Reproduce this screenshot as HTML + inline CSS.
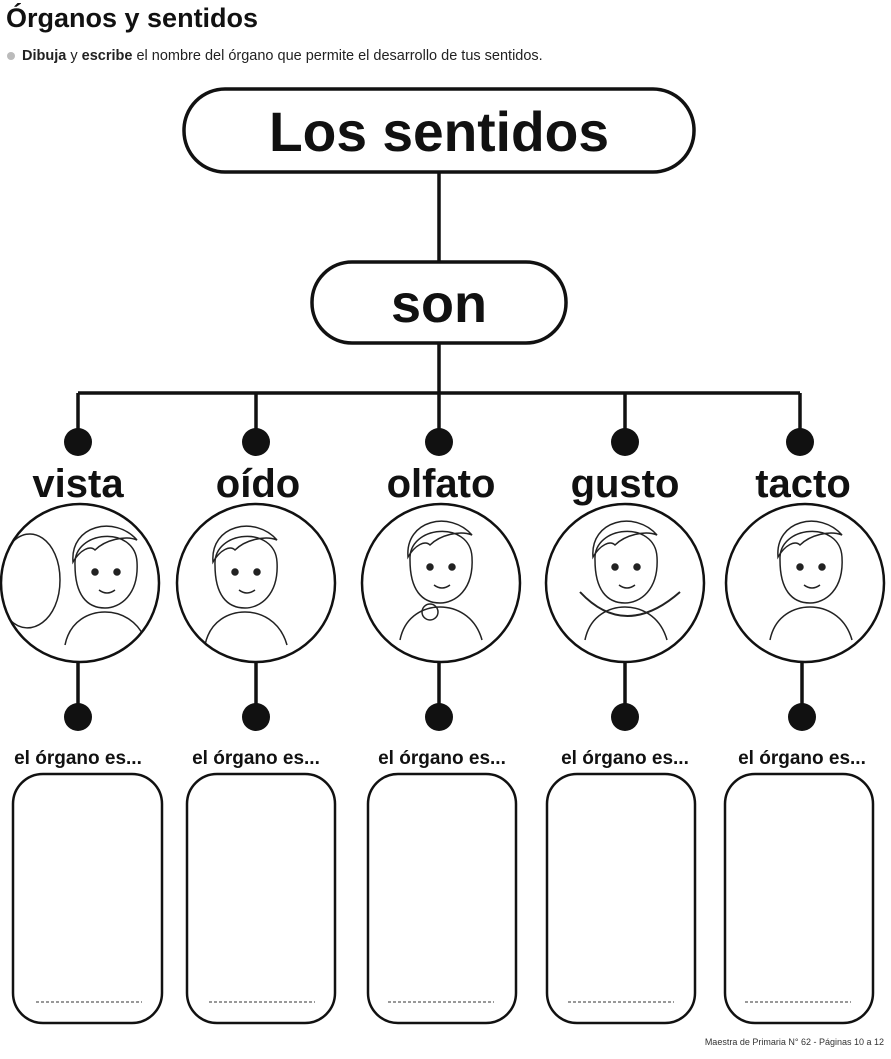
<!DOCTYPE html>
<html><head><meta charset="utf-8"><style>
body{margin:0;background:#fff;width:891px;height:1054px;overflow:hidden;font-family:"Liberation Sans",sans-serif}
</style></head><body>
<svg width="891" height="1054" viewBox="0 0 891 1054" xmlns="http://www.w3.org/2000/svg" font-family="Liberation Sans, sans-serif">
<defs>
<g id="kid" fill="none" stroke="#222" stroke-width="1.5">
<path d="M-30,-5 C-32,-40 30,-45 32,-8 C34,25 15,38 0,38 C-18,38 -30,25 -30,-5 Z"/>
<path d="M-32,-8 C-35,-45 10,-55 32,-30 C20,-35 0,-30 -10,-20 C-15,-25 -25,-20 -32,-8 Z"/>
<circle cx="-10" cy="2" r="3" fill="#222"/><circle cx="12" cy="2" r="3" fill="#222"/>
<path d="M-6,20 Q2,26 10,20"/>
<path d="M-40,75 C-35,50 -15,42 0,42 C15,42 35,50 42,75"/>
</g>
</defs>
<text x="6" y="27" font-size="27" font-weight="bold" fill="#111">Órganos y sentidos</text>
<circle cx="11" cy="56" r="4" fill="#bbb"/>
<text x="22" y="60" font-size="14.5" fill="#222"><tspan font-weight="bold">Dibuja</tspan> y <tspan font-weight="bold">escribe</tspan> el nombre del órgano que permite el desarrollo de tus sentidos.</text>
<g stroke="#111" stroke-width="3.5" fill="none">
<rect x="184" y="89" width="510" height="83" rx="41"/>
<rect x="312" y="262" width="254" height="81" rx="40"/>
<line x1="439" y1="172" x2="439" y2="262"/>
<line x1="439" y1="343" x2="439" y2="393"/>
<line x1="78" y1="393" x2="800" y2="393"/>
<line x1="78" y1="393" x2="78" y2="440"/>
<line x1="256" y1="393" x2="256" y2="440"/>
<line x1="439" y1="393" x2="439" y2="440"/>
<line x1="625" y1="393" x2="625" y2="440"/>
<line x1="800" y1="393" x2="800" y2="440"/>
<line x1="78" y1="662" x2="78" y2="715"/>
<line x1="256" y1="662" x2="256" y2="715"/>
<line x1="439" y1="662" x2="439" y2="715"/>
<line x1="625" y1="662" x2="625" y2="715"/>
<line x1="802" y1="662" x2="802" y2="715"/>
<rect x="13" y="774" width="149" height="249" rx="30" stroke-width="2.5"/>
<rect x="187" y="774" width="148" height="249" rx="30" stroke-width="2.5"/>
<rect x="368" y="774" width="148" height="249" rx="30" stroke-width="2.5"/>
<rect x="547" y="774" width="148" height="249" rx="30" stroke-width="2.5"/>
<rect x="725" y="774" width="148" height="249" rx="30" stroke-width="2.5"/>
</g>
<clipPath id="c1"><circle cx="80" cy="583" r="78"/></clipPath>
<clipPath id="c2"><circle cx="256" cy="583" r="78"/></clipPath>
<clipPath id="c3"><circle cx="441" cy="583" r="78"/></clipPath>
<clipPath id="c4"><circle cx="625" cy="583" r="78"/></clipPath>
<clipPath id="c5"><circle cx="805" cy="583" r="78"/></clipPath>
<g clip-path="url(#c1)"><use href="#kid" x="105" y="570"/><path d="M10,545 C30,520 60,540 60,580 C60,620 30,640 10,620" fill="none" stroke="#222" stroke-width="1.5"/></g>
<g clip-path="url(#c2)"><use href="#kid" x="245" y="570"/></g>
<g clip-path="url(#c3)"><use href="#kid" x="440" y="565"/><circle cx="430" cy="612" r="8" fill="none" stroke="#222" stroke-width="1.5"/></g>
<g clip-path="url(#c4)"><use href="#kid" x="625" y="565"/><path d="M580,592 Q625,640 680,592" fill="none" stroke="#222" stroke-width="2"/></g>
<g clip-path="url(#c5)"><use href="#kid" x="810" y="565"/></g>
<g stroke="#111" stroke-width="2.5" fill="none">
<circle cx="80" cy="583" r="79"/><circle cx="256" cy="583" r="79"/><circle cx="441" cy="583" r="79"/><circle cx="625" cy="583" r="79"/><circle cx="805" cy="583" r="79"/>
</g>
<g fill="#111">
<circle cx="78" cy="442" r="14"/><circle cx="256" cy="442" r="14"/><circle cx="439" cy="442" r="14"/><circle cx="625" cy="442" r="14"/><circle cx="800" cy="442" r="14"/>
<circle cx="78" cy="717" r="14"/><circle cx="256" cy="717" r="14"/><circle cx="439" cy="717" r="14"/><circle cx="625" cy="717" r="14"/><circle cx="802" cy="717" r="14"/>
</g>
<g stroke="#333" stroke-width="1" stroke-dasharray="3,2">
<line x1="36" y1="1002" x2="142" y2="1002"/><line x1="209" y1="1002" x2="315" y2="1002"/><line x1="388" y1="1002" x2="494" y2="1002"/><line x1="568" y1="1002" x2="674" y2="1002"/><line x1="745" y1="1002" x2="851" y2="1002"/>
</g>
<g font-weight="bold" fill="#111" text-anchor="middle">
<text x="439" y="151" font-size="56" textLength="340" lengthAdjust="spacingAndGlyphs">Los sentidos</text>
<text x="439" y="322" font-size="54">son</text>
<g font-size="40">
<text x="78" y="497">vista</text><text x="258" y="497">oído</text><text x="441" y="497">olfato</text><text x="625" y="497">gusto</text><text x="803" y="497">tacto</text>
</g>
<g font-size="19">
<text x="78" y="764">el órgano es...</text><text x="256" y="764">el órgano es...</text><text x="442" y="764">el órgano es...</text><text x="625" y="764">el órgano es...</text><text x="802" y="764">el órgano es...</text>
</g>
</g>
<text x="884" y="1045" font-size="9" fill="#333" text-anchor="end">Maestra de Primaria N° 62 - Páginas 10 a 12</text>
</svg>
</body></html>
